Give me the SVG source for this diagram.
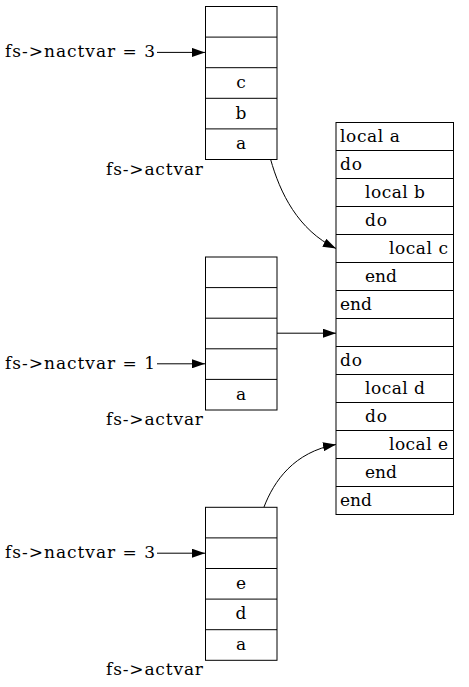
<svg xmlns="http://www.w3.org/2000/svg" width="469" height="687" viewBox="0 0 469 687">
<defs>
<style>
.box{fill:#fff;stroke:#000;stroke-width:1}
.ln{stroke:#000;stroke-width:1;fill:none}
text{font-family:"DejaVu Serif","Liberation Serif",serif;font-size:17px;fill:#000}
.c{text-anchor:middle}
.edge{stroke:#000;stroke-width:1;fill:none;marker-end:url(#ah)}
</style>
<marker id="ah" markerWidth="13" markerHeight="9" refX="13" refY="4.5" orient="auto" markerUnits="userSpaceOnUse">
<path d="M0,0 L13,4.5 L0,9 Z" fill="#000"/>
</marker>
</defs>
<rect width="469" height="687" fill="#fff"/>

<g id="stack1">
<rect class="box" x="205.5" y="6.5" width="71.5" height="153"/>
<path class="ln" d="M205.5,37.1H277M205.5,67.7H277M205.5,98.3H277M205.5,128.9H277"/>
<text class="c" x="241" y="88">c</text>
<text class="c" x="241" y="118.6">b</text>
<text class="c" x="241" y="149.2">a</text>
</g>
<g id="label1">
<text x="5" y="57" textLength="150" lengthAdjust="spacing">fs-&gt;nactvar = 3</text>
<text x="106" y="175" textLength="97" lengthAdjust="spacing">fs-&gt;actvar</text>
</g>

<g id="stack2">
<rect class="box" x="205.5" y="257" width="71.5" height="153"/>
<path class="ln" d="M205.5,287.6H277M205.5,318.2H277M205.5,348.8H277M205.5,379.4H277"/>
<text class="c" x="241" y="399.7">a</text>
</g>
<g id="label2">
<text x="5" y="368.7" textLength="150" lengthAdjust="spacing">fs-&gt;nactvar = 1</text>
<text x="106" y="425" textLength="97" lengthAdjust="spacing">fs-&gt;actvar</text>
</g>

<g id="stack3">
<rect class="box" x="205.5" y="507.3" width="71.5" height="153"/>
<path class="ln" d="M205.5,537.9H277M205.5,568.5H277M205.5,599.1H277M205.5,629.7H277"/>
<text class="c" x="241" y="588.8">e</text>
<text class="c" x="241" y="619.4">d</text>
<text class="c" x="241" y="650">a</text>
</g>
<g id="label3">
<text x="5" y="558.3" textLength="150" lengthAdjust="spacing">fs-&gt;nactvar = 3</text>
<text x="106" y="675" textLength="97" lengthAdjust="spacing">fs-&gt;actvar</text>
</g>

<g id="code">
<rect class="box" x="336" y="122.5" width="117.5" height="392"/>
<path class="ln" d="M336,150.5H453.5M336,178.5H453.5M336,206.5H453.5M336,234.5H453.5M336,262.5H453.5M336,290.5H453.5M336,318.5H453.5M336,346.5H453.5M336,374.5H453.5M336,402.5H453.5M336,430.5H453.5M336,458.5H453.5M336,486.5H453.5"/>
<text x="340" y="141.5" textLength="60" lengthAdjust="spacing">local a</text>
<text x="340" y="169.5" textLength="22" lengthAdjust="spacing">do</text>
<text x="365" y="197.5" textLength="60" lengthAdjust="spacing">local b</text>
<text x="365" y="225.5" textLength="22" lengthAdjust="spacing">do</text>
<text x="389" y="253.5" textLength="59" lengthAdjust="spacing">local c</text>
<text x="365" y="281.5" textLength="32" lengthAdjust="spacing">end</text>
<text x="340" y="309.5" textLength="32" lengthAdjust="spacing">end</text>
<text x="340" y="365.5" textLength="22" lengthAdjust="spacing">do</text>
<text x="365" y="393.5" textLength="60" lengthAdjust="spacing">local d</text>
<text x="365" y="421.5" textLength="22" lengthAdjust="spacing">do</text>
<text x="389" y="449.5" textLength="59" lengthAdjust="spacing">local e</text>
<text x="365" y="477.5" textLength="32" lengthAdjust="spacing">end</text>
<text x="340" y="505.5" textLength="32" lengthAdjust="spacing">end</text>
</g>

<g id="connectors">
<path class="edge" d="M157,52.4H205"/>
<path class="edge" d="M157,363.8H205"/>
<path class="edge" d="M157,553.2H205"/>
<path class="edge" d="M277,333.2H336"/>
<path class="edge" d="M270.5,159C280,193 298,230 336,248.5"/>
<path class="edge" d="M264,507C274,481 294,452 336,444.5"/>
</g>
</svg>
